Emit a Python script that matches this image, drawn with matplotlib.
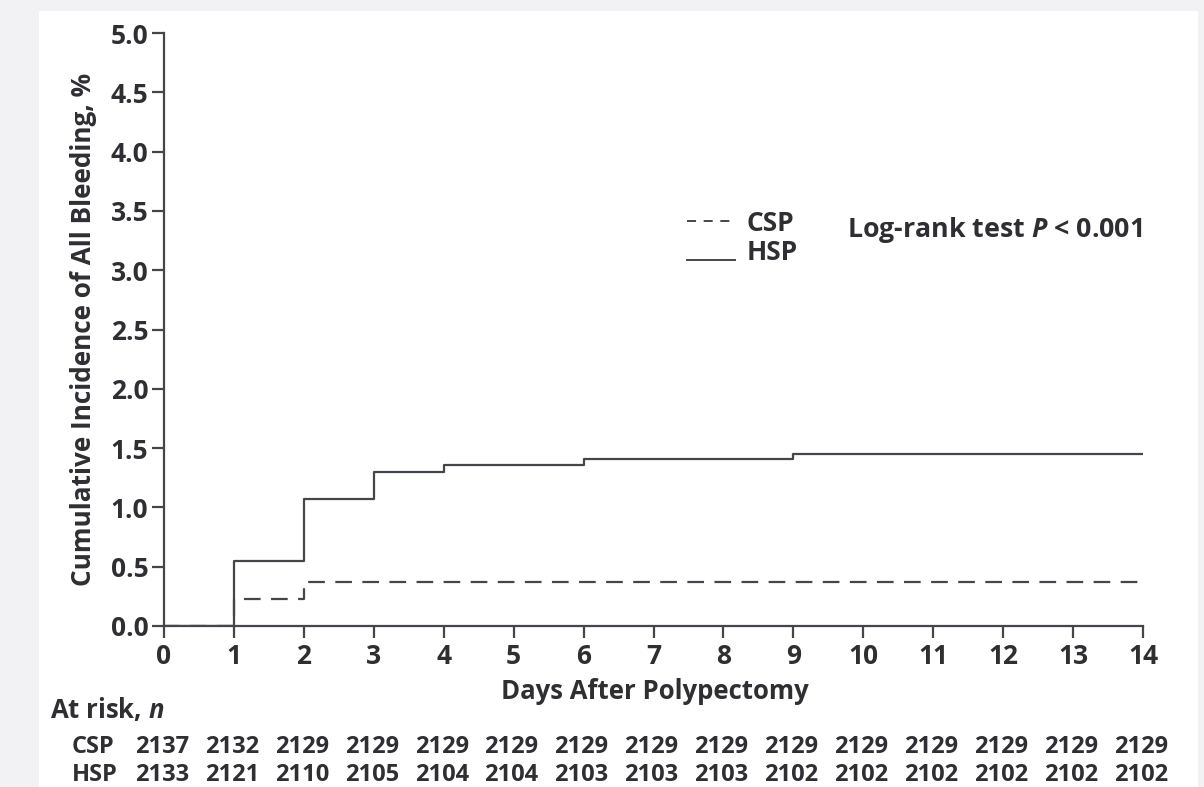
import matplotlib
matplotlib.use("Agg")
import matplotlib.pyplot as plt
from matplotlib.lines import Line2D
from matplotlib.patches import Rectangle
from matplotlib.legend_handler import HandlerLine2D
from matplotlib.transforms import blended_transform_factory

# data
days = [0, 1, 2, 3, 4, 5, 6, 7, 8, 9, 10, 11, 12, 13, 14]
hsp_t = [0, 1, 2, 3, 4, 6, 9, 14]
hsp_y = [0.0, 0.55, 1.07, 1.30, 1.36, 1.41, 1.45, 1.45]
csp_t = [0, 1, 2, 14]
csp_y = [0.0, 0.23, 0.37, 0.37]
csp_risk = [2137, 2132, 2129, 2129, 2129, 2129, 2129, 2129, 2129, 2129, 2129, 2129, 2129, 2129, 2129]
hsp_risk = [2133, 2121, 2110, 2105, 2104, 2104, 2103, 2103, 2103, 2102, 2102, 2102, 2102, 2102, 2102]
yticks = [0.0, 0.5, 1.0, 1.5, 2.0, 2.5, 3.0, 3.5, 4.0, 4.5, 5.0]

TXT = "#2e2e33"
LINE = "#45454b"
FS = 18.5

plt.rcParams["font.family"] = ["Open Sans", "DejaVu Sans"]
plt.rcParams["font.weight"] = "bold"
plt.rcParams["mathtext.fontset"] = "custom"
plt.rcParams["mathtext.rm"] = "Open Sans:bold"
plt.rcParams["mathtext.it"] = "Open Sans:italic:bold"
plt.rcParams["mathtext.bf"] = "Open Sans:bold"
plt.rcParams["lines.scale_dashes"] = False


class LowLine(HandlerLine2D):
    # solid legend sample sits a bit below the text centre, like the original
    def create_artists(self, legend, orig_handle, xdescent, ydescent, width,
                       height, fontsize, trans):
        return super().create_artists(legend, orig_handle, xdescent, ydescent + 13,
                                      width, height, fontsize, trans)


fig = plt.figure(figsize=(12.04, 7.87), dpi=100)
fig.patch.set_facecolor("#f2f2f5")
fig.patches.append(Rectangle((39 / 1204, 0), (1198 - 39) / 1204, (787 - 11) / 787,
                             transform=fig.transFigure, facecolor="white",
                             edgecolor="none", zorder=-10))

ax = fig.add_axes([164 / 1204, 1 - 626 / 787, (1143 - 164) / 1204, (626 - 33) / 787])
ax.set_facecolor("none")
ax.set_zorder(1)

ax.step(hsp_t, hsp_y, where="post", color=LINE, lw=1.6, label="HSP")
ax.step(csp_t, csp_y, where="post", color=LINE, lw=1.6,
        linestyle=(1, (12, 7.5)), label="CSP")

ax.set_xlim(0, 14)
ax.set_ylim(0, 5)
ax.set_xticks(days)
ax.set_yticks(yticks)
ax.set_yticklabels([f"{v:.1f}" for v in yticks])
for s in ["top", "right"]:
    ax.spines[s].set_visible(False)
for s in ["left", "bottom"]:
    ax.spines[s].set_color(LINE)
    ax.spines[s].set_linewidth(1.6)
ax.tick_params(axis="both", direction="out", length=8.3, width=1.6, color=LINE,
               labelsize=19, labelcolor=TXT)
ax.tick_params(axis="x", pad=4)
ax.tick_params(axis="y", pad=3)

ax.set_ylabel("Cumulative Incidence of All Bleeding, %", fontsize=18.8,
              fontweight="bold", color=TXT)
ax.yaxis.set_label_coords(-0.068, 0.5)
ax.text(0.501, -0.123, "Days After Polypectomy", transform=ax.transAxes,
        ha="center", va="baseline", fontsize=FS, color=TXT)

h_csp = Line2D([], [], color=LINE, lw=1.4, dashes=(6.5, 5.5))
h_hsp = Line2D([], [], color=LINE, lw=1.4)
ax.legend([h_csp, h_hsp], ["CSP", "HSP"], loc="upper left",
          bbox_to_anchor=(0.534, 0.702), frameon=False, fontsize=19,
          borderpad=0, borderaxespad=0, handlelength=1.82, handletextpad=0.45,
          labelspacing=0.08, labelcolor=TXT, handler_map={h_hsp: LowLine()})

ax.text(0.999, 0.668, "Log-rank test $P$ < 0.001", transform=ax.transAxes,
        ha="right", va="center", fontsize=19.3, color=TXT)

# at-risk table
tr = blended_transform_factory(ax.transData, fig.transFigure)
fig.text(50 / 1204, 1 - 718 / 787, "At risk, $n$", ha="left", va="baseline",
         fontsize=FS, color=TXT)
for name, row, ypx in [("CSP", csp_risk, 753), ("HSP", hsp_risk, 781)]:
    fig.text(72 / 1204, 1 - ypx / 787, name, ha="left", va="baseline",
             fontsize=17, color=TXT)
    for d, n in zip(days, row):
        ax.text(d - 0.03, 1 - ypx / 787, str(n), transform=tr,
                ha="center", va="baseline", fontsize=17, color=TXT)

fig.savefig("out.png", dpi=100, facecolor=fig.get_facecolor())
